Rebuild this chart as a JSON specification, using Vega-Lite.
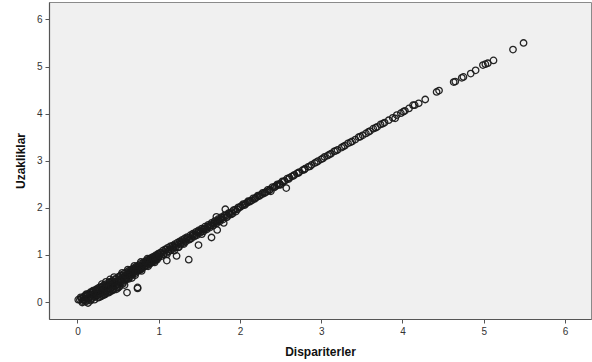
{
  "$schema": "https://vega.github.io/schema/vega-lite/v6.json",
  "width": 542,
  "height": 317,
  "autosize": {"type": "none"},
  "padding": {"left": 49, "top": 2, "right": 1, "bottom": 43},
  "background": "white",
  "config": {
    "view": {"fill": "#f0f0f0", "stroke": "#8a8a8a", "strokeWidth": 1},
    "axis": {
      "grid": false,
      "domainColor": "#555555",
      "domainWidth": 1.2,
      "tickColor": "#555555",
      "tickSize": 4,
      "labelFont": "Liberation Sans",
      "labelFontSize": 10,
      "labelColor": "#333333",
      "titleFont": "Liberation Sans",
      "titleFontSize": 12,
      "titleFontWeight": "bold",
      "titleColor": "#111111"
    }
  },
  "data": {"values": [
    {"x":0.01,"y":0.05},{"x":0.03,"y":0.05},{"x":0.05,"y":0.08},{"x":0.06,"y":0.02},{"x":0.07,"y":0.09},{"x":0.08,"y":0.12},{"x":0.09,"y":0.05},{"x":0.10,"y":0.14},{"x":0.11,"y":0.08},{"x":0.12,"y":0.03},{"x":0.12,"y":0.14},{"x":0.13,"y":0.17},{"x":0.13,"y":-0.02},{"x":0.15,"y":0.10},{"x":0.15,"y":0.16},{"x":0.16,"y":0.21},{"x":0.17,"y":0.06},{"x":0.18,"y":0.15},{"x":0.18,"y":0.21},{"x":0.19,"y":0.24},{"x":0.20,"y":0.11},{"x":0.21,"y":0.05},{"x":0.22,"y":0.19},{"x":0.22,"y":0.25},{"x":0.23,"y":0.27},{"x":0.24,"y":0.14},{"x":0.25,"y":0.09},{"x":0.25,"y":0.29},{"x":0.26,"y":0.22},{"x":0.27,"y":0.31},{"x":0.28,"y":0.17},{"x":0.29,"y":0.12},{"x":0.29,"y":0.31},{"x":0.30,"y":0.26},{"x":0.31,"y":0.34},{"x":0.32,"y":0.20},{"x":0.33,"y":0.16},{"x":0.33,"y":0.36},{"x":0.34,"y":0.30},{"x":0.35,"y":0.38},{"x":0.36,"y":0.24},{"x":0.36,"y":0.33},{"x":0.37,"y":0.20},{"x":0.38,"y":0.34},{"x":0.39,"y":0.42},{"x":0.40,"y":0.28},{"x":0.40,"y":0.43},{"x":0.41,"y":0.23},{"x":0.42,"y":0.37},{"x":0.43,"y":0.45},{"x":0.44,"y":0.32},{"x":0.44,"y":0.41},{"x":0.45,"y":0.28},{"x":0.46,"y":0.41},{"x":0.46,"y":0.48},{"x":0.47,"y":0.49},{"x":0.48,"y":0.36},{"x":0.48,"y":0.27},{"x":0.49,"y":0.31},{"x":0.50,"y":0.45},
    {"x":0.04,"y":0.10},{"x":0.06,"y":-0.01},{"x":0.08,"y":0.04},{"x":0.10,"y":0.01},{"x":0.11,"y":0.17},{"x":0.14,"y":0.07},{"x":0.16,"y":0.03},{"x":0.17,"y":0.19},{"x":0.19,"y":0.09},{"x":0.20,"y":0.22},{"x":0.21,"y":0.15},{"x":0.23,"y":0.12},{"x":0.24,"y":0.24},{"x":0.26,"y":0.16},{"x":0.27,"y":0.10},{"x":0.28,"y":0.27},{"x":0.30,"y":0.20},{"x":0.31,"y":0.14},{"x":0.32,"y":0.31},{"x":0.34,"y":0.23},{"x":0.35,"y":0.18},{"x":0.37,"y":0.36},{"x":0.38,"y":0.27},{"x":0.39,"y":0.22},{"x":0.41,"y":0.40},{"x":0.42,"y":0.31},{"x":0.43,"y":0.26},{"x":0.45,"y":0.44},{"x":0.47,"y":0.34},{"x":0.49,"y":0.43},{"x":0.50,"y":0.37},
    {"x":0.30,"y":0.38},{"x":0.35,"y":0.43},{"x":0.40,"y":0.48},{"x":0.45,"y":0.53},{"x":0.34,"y":0.16},{"x":0.39,"y":0.20},{"x":0.44,"y":0.25},{"x":0.50,"y":0.30},
    {"x":0.51,"y":0.54},{"x":0.52,"y":0.41},{"x":0.53,"y":0.48},{"x":0.54,"y":0.57},{"x":0.55,"y":0.45},{"x":0.56,"y":0.52},{"x":0.57,"y":0.60},{"x":0.58,"y":0.49},{"x":0.58,"y":0.36},{"x":0.59,"y":0.56},{"x":0.60,"y":0.63},{"x":0.61,"y":0.53},{"x":0.61,"y":0.20},{"x":0.62,"y":0.60},{"x":0.63,"y":0.66},{"x":0.64,"y":0.57},{"x":0.65,"y":0.63},{"x":0.66,"y":0.69},{"x":0.67,"y":0.60},{"x":0.67,"y":0.51},{"x":0.68,"y":0.66},{"x":0.69,"y":0.72},{"x":0.70,"y":0.63},{"x":0.71,"y":0.69},{"x":0.72,"y":0.75},{"x":0.73,"y":0.66},{"x":0.74,"y":0.29},{"x":0.74,"y":0.31},{"x":0.74,"y":0.72},{"x":0.75,"y":0.78},{"x":0.76,"y":0.69},{"x":0.77,"y":0.75},{"x":0.78,"y":0.81},{"x":0.79,"y":0.70},{"x":0.79,"y":0.72},{"x":0.80,"y":0.78},{"x":0.81,"y":0.84},{"x":0.82,"y":0.75},{"x":0.83,"y":0.81},{"x":0.84,"y":0.87},{"x":0.85,"y":0.79},{"x":0.86,"y":0.84},{"x":0.87,"y":0.90},{"x":0.88,"y":0.82},{"x":0.89,"y":0.87},{"x":0.90,"y":0.93},{"x":0.91,"y":0.85},{"x":0.92,"y":0.90},{"x":0.93,"y":0.96},{"x":0.94,"y":0.88},{"x":0.95,"y":0.93},{"x":0.96,"y":0.99},{"x":0.97,"y":0.91},{"x":0.98,"y":0.96},{"x":0.99,"y":1.02},{"x":1.00,"y":0.95},
    {"x":0.51,"y":0.47},{"x":0.52,"y":0.33},{"x":0.53,"y":0.56},{"x":0.54,"y":0.43},{"x":0.55,"y":0.52},{"x":0.56,"y":0.39},{"x":0.57,"y":0.54},{"x":0.59,"y":0.47},{"x":0.60,"y":0.55},{"x":0.62,"y":0.50},{"x":0.63,"y":0.59},{"x":0.64,"y":0.64},{"x":0.65,"y":0.54},{"x":0.66,"y":0.61},{"x":0.68,"y":0.58},{"x":0.69,"y":0.65},{"x":0.70,"y":0.71},{"x":0.71,"y":0.61},{"x":0.72,"y":0.67},{"x":0.73,"y":0.73},{"x":0.75,"y":0.66},{"x":0.76,"y":0.74},{"x":0.77,"y":0.68},{"x":0.78,"y":0.72},{"x":0.80,"y":0.73},{"x":0.81,"y":0.79},{"x":0.82,"y":0.83},{"x":0.83,"y":0.76},{"x":0.85,"y":0.84},{"x":0.86,"y":0.78},{"x":0.87,"y":0.85},{"x":0.88,"y":0.89},{"x":0.89,"y":0.81},{"x":0.90,"y":0.87},{"x":0.91,"y":0.92},{"x":0.92,"y":0.84},{"x":0.93,"y":0.91},{"x":0.94,"y":0.95},{"x":0.95,"y":0.87},{"x":0.96,"y":0.93},{"x":0.97,"y":0.98},{"x":0.98,"y":0.90},{"x":0.99,"y":0.95},{"x":1.00,"y":1.02},
    {"x":0.55,"y":0.62},{"x":0.62,"y":0.69},{"x":0.70,"y":0.77},{"x":0.78,"y":0.85},{"x":0.86,"y":0.92},{"x":0.56,"y":0.42},{"x":0.63,"y":0.49},{"x":0.71,"y":0.57},{"x":0.79,"y":0.66},{"x":0.87,"y":0.76},{"x":0.95,"y":0.84},
    {"x":1.02,"y":1.05},{"x":1.03,"y":0.97},{"x":1.05,"y":1.09},{"x":1.06,"y":1.01},{"x":1.08,"y":1.12},{"x":1.09,"y":1.04},{"x":1.10,"y":0.88},{"x":1.11,"y":1.15},{"x":1.12,"y":1.07},{"x":1.14,"y":1.18},{"x":1.15,"y":1.10},{"x":1.17,"y":1.20},{"x":1.18,"y":1.13},{"x":1.20,"y":1.23},{"x":1.21,"y":1.16},{"x":1.22,"y":0.98},{"x":1.23,"y":1.26},{"x":1.24,"y":1.16},{"x":1.26,"y":1.29},{"x":1.27,"y":1.22},{"x":1.29,"y":1.32},{"x":1.30,"y":1.25},{"x":1.32,"y":1.35},{"x":1.33,"y":1.28},{"x":1.35,"y":1.38},{"x":1.37,"y":1.32},{"x":1.37,"y":0.90},{"x":1.39,"y":1.42},{"x":1.40,"y":1.35},{"x":1.42,"y":1.45},{"x":1.44,"y":1.39},{"x":1.46,"y":1.49},{"x":1.47,"y":1.42},{"x":1.49,"y":1.52},{"x":1.49,"y":1.21},{"x":1.51,"y":1.47},{"x":1.53,"y":1.56},{"x":1.53,"y":1.44},{"x":1.55,"y":1.50},{"x":1.57,"y":1.60},{"x":1.59,"y":1.54},{"x":1.61,"y":1.64},{"x":1.63,"y":1.58},{"x":1.65,"y":1.68},{"x":1.65,"y":1.37},{"x":1.67,"y":1.62},{"x":1.69,"y":1.72},{"x":1.71,"y":1.67},{"x":1.71,"y":1.81},{"x":1.72,"y":1.53},{"x":1.73,"y":1.76},{"x":1.75,"y":1.71},{"x":1.77,"y":1.80},{"x":1.79,"y":1.75},{"x":1.80,"y":1.68},{"x":1.81,"y":1.84},{"x":1.82,"y":1.97},{"x":1.84,"y":1.80},{"x":1.86,"y":1.89},{"x":1.89,"y":1.86},{"x":1.92,"y":1.95},{"x":1.95,"y":1.92},{"x":1.98,"y":2.01},
    {"x":1.01,"y":0.99},{"x":1.04,"y":1.04},{"x":1.07,"y":1.06},{"x":1.09,"y":1.11},{"x":1.10,"y":1.01},{"x":1.13,"y":1.12},{"x":1.16,"y":1.15},{"x":1.19,"y":1.18},{"x":1.19,"y":1.09},{"x":1.22,"y":1.21},{"x":1.25,"y":1.24},{"x":1.25,"y":1.17},{"x":1.28,"y":1.27},{"x":1.31,"y":1.30},{"x":1.31,"y":1.23},{"x":1.34,"y":1.33},{"x":1.36,"y":1.36},{"x":1.38,"y":1.33},{"x":1.41,"y":1.40},{"x":1.43,"y":1.43},{"x":1.45,"y":1.42},{"x":1.48,"y":1.47},{"x":1.50,"y":1.50},{"x":1.52,"y":1.49},{"x":1.54,"y":1.54},{"x":1.56,"y":1.55},{"x":1.58,"y":1.56},{"x":1.60,"y":1.60},{"x":1.62,"y":1.61},{"x":1.64,"y":1.62},{"x":1.66,"y":1.66},{"x":1.68,"y":1.67},{"x":1.70,"y":1.69},{"x":1.72,"y":1.72},{"x":1.74,"y":1.74},{"x":1.76,"y":1.75},{"x":1.78,"y":1.78},{"x":1.80,"y":1.80},{"x":1.83,"y":1.84},{"x":1.85,"y":1.83},{"x":1.87,"y":1.88},{"x":1.90,"y":1.91},{"x":1.91,"y":1.88},{"x":1.94,"y":1.96},{"x":1.97,"y":1.97},
    {"x":2.00,"y":2.01},{"x":2.03,"y":2.05},{"x":2.06,"y":2.06},{"x":2.09,"y":2.11},{"x":2.12,"y":2.13},{"x":2.15,"y":2.16},{"x":2.18,"y":2.19},{"x":2.21,"y":2.23},{"x":2.24,"y":2.25},{"x":2.27,"y":2.29},{"x":2.30,"y":2.31},{"x":2.33,"y":2.34},{"x":2.36,"y":2.37},{"x":2.42,"y":2.43},{"x":2.45,"y":2.47},{"x":2.48,"y":2.49},{"x":2.53,"y":2.55},
    {"x":2.01,"y":2.03},{"x":2.04,"y":2.08},{"x":2.07,"y":2.09},{"x":2.10,"y":2.14},{"x":2.13,"y":2.15},{"x":2.16,"y":2.20},{"x":2.19,"y":2.21},{"x":2.22,"y":2.26},{"x":2.25,"y":2.27},{"x":2.28,"y":2.32},{"x":2.31,"y":2.33},{"x":2.34,"y":2.38},{"x":2.37,"y":2.39},{"x":2.38,"y":2.35},{"x":2.40,"y":2.44},{"x":2.43,"y":2.45},{"x":2.46,"y":2.50},{"x":2.49,"y":2.51},{"x":2.50,"y":2.49},{"x":2.52,"y":2.56},{"x":2.55,"y":2.57},{"x":2.57,"y":2.42},{"x":2.58,"y":2.62},{"x":2.61,"y":2.64},{"x":2.64,"y":2.67},{"x":2.67,"y":2.70},{"x":2.70,"y":2.73},{"x":2.73,"y":2.76},{"x":2.77,"y":2.80},{"x":2.80,"y":2.83},{"x":2.84,"y":2.87},{"x":2.88,"y":2.91},{"x":2.92,"y":2.95},{"x":2.96,"y":2.99},
    {"x":2.60,"y":2.61},{"x":2.66,"y":2.68},{"x":2.72,"y":2.74},{"x":2.79,"y":2.81},{"x":2.86,"y":2.88},{"x":2.94,"y":2.97},{"x":3.02,"y":3.05},{"x":3.10,"y":3.13},{"x":3.18,"y":3.21},{"x":3.27,"y":3.30},{"x":3.36,"y":3.39},{"x":3.48,"y":3.51},{"x":3.58,"y":3.61},{"x":3.67,"y":3.70},{"x":3.76,"y":3.79},
    {"x":3.00,"y":3.03},{"x":3.04,"y":3.08},{"x":3.08,"y":3.11},{"x":3.12,"y":3.15},{"x":3.16,"y":3.20},{"x":3.20,"y":3.23},{"x":3.25,"y":3.28},{"x":3.29,"y":3.32},{"x":3.33,"y":3.37},{"x":3.38,"y":3.41},{"x":3.42,"y":3.45},{"x":3.46,"y":3.50},{"x":3.51,"y":3.54},{"x":3.55,"y":3.58},{"x":3.60,"y":3.63},{"x":3.64,"y":3.68},{"x":3.69,"y":3.72},{"x":3.73,"y":3.77},{"x":3.78,"y":3.81},{"x":3.83,"y":3.86},{"x":3.88,"y":3.91},{"x":3.91,"y":3.90},{"x":3.93,"y":3.97},{"x":3.98,"y":4.01},{"x":4.01,"y":4.04},{"x":4.03,"y":4.06},{"x":4.08,"y":4.11},
    {"x":4.13,"y":4.18},{"x":4.15,"y":4.18},{"x":4.20,"y":4.22},{"x":4.28,"y":4.30},{"x":4.42,"y":4.46},{"x":4.45,"y":4.49},{"x":4.63,"y":4.67},{"x":4.65,"y":4.68},{"x":4.73,"y":4.76},{"x":4.75,"y":4.78},{"x":4.84,"y":4.85},{"x":4.90,"y":4.92},{"x":4.99,"y":5.03},{"x":5.02,"y":5.05},{"x":5.05,"y":5.07},{"x":5.12,"y":5.13},{"x":5.36,"y":5.36},{"x":5.49,"y":5.50}
  ]},
  "mark": {"type": "point", "shape": "circle", "filled": false, "size": 42, "stroke": "#1a1a1a", "strokeWidth": 1.3, "opacity": 0.95, "clip": true},
  "encoding": {
    "x": {"field": "x", "type": "quantitative", "title": "Dispariterler",
          "scale": {"domain": [-0.35, 6.32], "nice": false, "zero": false},
          "axis": {"values": [0,1,2,3,4,5,6], "labelPadding": 3, "titlePadding": 10}},
    "y": {"field": "y", "type": "quantitative", "title": "Uzakliklar",
          "scale": {"domain": [-0.36, 6.37], "nice": false, "zero": false},
          "axis": {"values": [0,1,2,3,4,5,6], "labelPadding": 3, "titlePadding": 9}}
  }
}
